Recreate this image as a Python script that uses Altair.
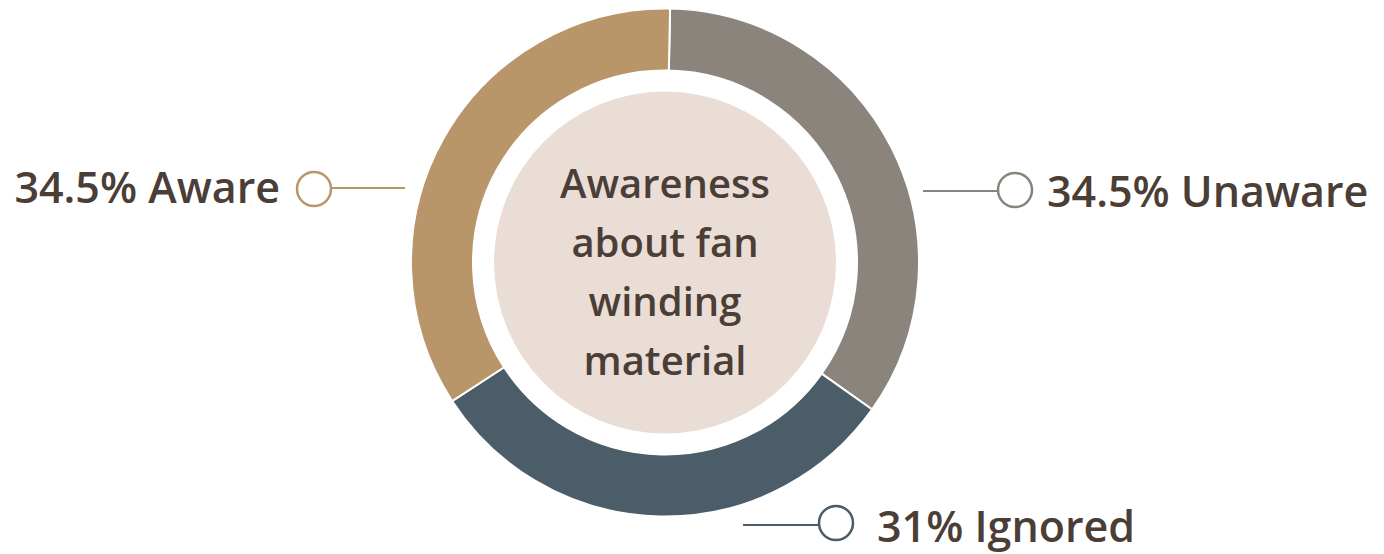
import altair as alt
import pandas as pd

# ---- data ----
categories = ["Unaware", "Ignored", "Aware"]
values = [34.5, 31, 34.5]
label_texts = ["34.5% Unaware", "31% Ignored", "34.5% Aware"]
center_lines = ["Awareness", "about fan", "winding", "material"]

# ---- styles / layout ----
colors = ["#8A847D", "#4A5D69", "#B9956A"]
TEXT_COLOR = "#4A3E36"
FONT = "Open Sans"
W, H = 1368, 546
CX, CY = 657, 254.5
R_OUT, R_IN, R_CIRCLE = 254, 192, 171
START = 0.02

# label layout per category: rule x1, x2, y; circle x, y; text x, y, align
layout = {
    "Unaware": dict(rx1=915, rx2=990, ry=183, cx=1007, cy=182, tx=1039, ty=199, align="left"),
    "Ignored": dict(rx1=735, rx2=811, ry=517, cx=828, cy=515, tx=869, ty=534, align="left"),
    "Aware": dict(rx1=323, rx2=397, ry=180, cx=306, cy=181, tx=272, ty=195, align="right"),
}

df = pd.DataFrame({"category": categories, "value": values, "order": list(range(len(categories)))})

color_scale = alt.Scale(domain=categories, range=colors)

donut = alt.Chart(df).mark_arc(
    outerRadius=R_OUT, innerRadius=R_IN, stroke="white", strokeWidth=2
).encode(
    theta=alt.Theta("value:Q", stack=True, scale=alt.Scale(range=[START, START + 6.283185307])),
    color=alt.Color("category:N", scale=color_scale, legend=None),
    order=alt.Order("order:Q"),
    x=alt.value(CX),
    y=alt.value(CY),
)

center_circle = alt.Chart(df.head(1)).mark_arc(
    radius=R_CIRCLE, theta=0, theta2=6.2832, color="#EADDD6"
).encode(x=alt.value(CX), y=alt.value(CY))

center_text = alt.Chart(df.head(1)).mark_text(
    text=center_lines, font=FONT, fontSize=40, fontWeight=600, color=TEXT_COLOR,
    align="center", baseline="alphabetic", lineHeight=59
).encode(x=alt.value(CX), y=alt.value(190))

layers = [donut, center_circle, center_text]
for cat, col, txt in zip(categories, colors, label_texts):
    L = layout[cat]
    one = df[df.category == cat]
    layers.append(
        alt.Chart(one).mark_rule(color=col, strokeWidth=2).encode(
            x=alt.value(L["rx1"]), x2=alt.value(L["rx2"]), y=alt.value(L["ry"])
        )
    )
    layers.append(
        alt.Chart(one).mark_point(
            shape="circle", size=1156, filled=True, fill="white", stroke=col, strokeWidth=2.5, opacity=1
        ).encode(x=alt.value(L["cx"]), y=alt.value(L["cy"]))
    )
    layers.append(
        alt.Chart(one).mark_text(
            text=txt, font=FONT, fontSize=43, fontWeight=600, color=TEXT_COLOR,
            align=L["align"], baseline="alphabetic"
        ).encode(x=alt.value(L["tx"]), y=alt.value(L["ty"]))
    )

chart = alt.layer(*layers).properties(
    width=W, height=H, padding=0, autosize=alt.AutoSizeParams(type="none"),
    view=alt.ViewBackground(stroke=None, fill=None),
).configure_view(stroke=None).configure(background="white")

chart.save("out.html", embed_options={"renderer": "svg", "actions": False})
